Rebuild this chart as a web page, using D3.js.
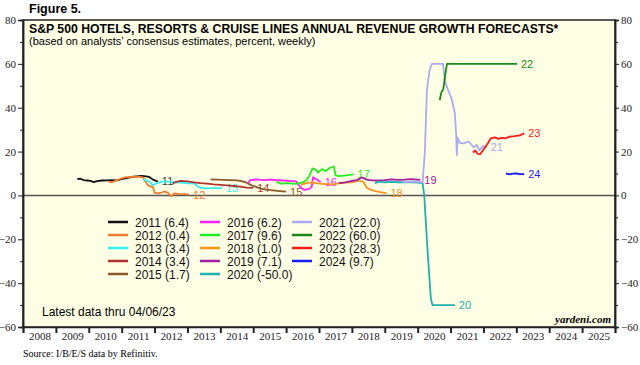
<!DOCTYPE html>
<html>
<head>
<meta charset="utf-8">
<script src="https://cdnjs.cloudflare.com/ajax/libs/d3/7.8.5/d3.min.js"></script>
<style>
  body { margin: 0; background: #fff; }
  svg { display: block; }
  .ax text { font-family: "Liberation Serif", "Times New Roman", serif; font-size: 11px; fill: #222; }
  .ax path, .ax line { stroke: #222; }
</style>
</head>
<body>
<div id="chart"></div>
<script>
// forecast years, and the last value shown in the legend
var years = [2011, 2012, 2013, 2014, 2015, 2016, 2017, 2018, 2019, 2020, 2021, 2022, 2023, 2024];
var lastValues = [6.4, 0.4, 3.4, 3.4, 1.7, 6.2, 9.6, 1.0, 7.1, -50.0, 22.0, 60.0, 28.3, 9.7];

// weekly consensus estimates, [date as decimal year, percent]
var fc2011 = [[2009.65,7.4],[2009.75,7.6],[2009.85,7.0],[2009.95,6.8],[2010.05,6.6],[2010.15,6.1],[2010.25,6.5],[2010.4,6.8],[2010.55,6.9],[2010.7,7.0],[2010.85,6.9],[2011.0,7.4],[2011.15,7.9],[2011.3,8.4],[2011.45,8.7],[2011.6,8.9],[2011.75,8.7],[2011.85,8.3],[2011.95,7.2],[2012.05,6.6],[2012.1,6.4]];
var fc2012 = [[2010.6,6.3],[2010.7,6.0],[2010.8,6.6],[2010.95,7.5],[2011.1,8.2],[2011.25,8.4],[2011.4,8.6],[2011.55,8.5],[2011.65,8.2],[2011.72,6.5],[2011.78,5.0],[2011.85,4.2],[2011.95,3.8],[2012.0,1.2],[2012.15,1.0],[2012.3,1.8],[2012.4,1.3],[2012.5,-0.4],[2012.6,0.9],[2012.75,0.6],[2012.9,0.6],[2013.05,0.4]];
var fc2013 = [[2011.65,7.3],[2011.75,6.8],[2011.85,6.2],[2011.95,4.6],[2012.05,5.5],[2012.2,6.2],[2012.35,6.4],[2012.55,6.0],[2012.8,5.8],[2013.0,5.5],[2013.2,5.6],[2013.3,4.2],[2013.4,3.5],[2013.55,3.2],[2013.7,3.3],[2013.85,3.3],[2014.05,3.4]];
var fc2014 = [[2012.55,5.3],[2012.65,6.2],[2012.8,6.6],[2013.0,6.4],[2013.2,6.0],[2013.4,5.6],[2013.6,5.4],[2013.8,5.0],[2014.0,4.8],[2014.2,4.6],[2014.4,4.3],[2014.6,4.0],[2014.8,3.6],[2015.0,3.4]];
var fc2015 = [[2013.7,7.3],[2013.9,7.2],[2014.1,7.1],[2014.3,7.0],[2014.5,6.9],[2014.65,6.5],[2014.8,5.8],[2014.95,4.6],[2015.1,3.8],[2015.25,3.0],[2015.4,2.6],[2015.6,2.3],[2015.8,2.0],[2016.0,1.7]];
var fc2016 = [[2014.85,5.5],[2014.9,7.0],[2015.1,7.3],[2015.3,7.0],[2015.5,7.2],[2015.7,7.0],[2015.9,6.8],[2016.1,6.6],[2016.3,6.4],[2016.45,3.5],[2016.55,2.5],[2016.7,3.0],[2016.78,4.0],[2016.82,8.3],[2016.9,7.5],[2017.0,6.6],[2017.05,6.2]];
var fc2017 = [[2015.7,6.2],[2015.85,5.4],[2016.05,5.6],[2016.3,5.3],[2016.5,5.9],[2016.62,7.0],[2016.72,9.3],[2016.8,12.3],[2016.9,11.8],[2016.97,10.4],[2017.05,11.5],[2017.1,12.0],[2017.2,11.0],[2017.32,12.5],[2017.45,13.2],[2017.5,9.3],[2017.6,8.8],[2017.75,9.0],[2017.9,9.3],[2018.05,9.6]];
var fc2018 = [[2016.45,4.8],[2016.6,5.6],[2016.8,6.0],[2017.0,5.4],[2017.2,5.2],[2017.4,5.0],[2017.6,5.5],[2017.8,5.8],[2018.0,6.0],[2018.2,6.9],[2018.35,6.2],[2018.45,3.5],[2018.6,2.4],[2018.75,1.8],[2018.9,1.4],[2019.05,1.0]];
var fc2019 = [[2017.6,5.6],[2017.8,6.0],[2018.0,6.6],[2018.15,7.0],[2018.3,8.2],[2018.45,7.2],[2018.6,6.9],[2018.8,6.8],[2019.0,7.0],[2019.2,7.3],[2019.4,7.1],[2019.6,7.2],[2019.8,7.4],[2020.0,7.2],[2020.08,7.1]];
var fc2020 = [[2018.7,5.5],[2018.8,6.3],[2019.0,6.0],[2019.2,6.2],[2019.4,6.0],[2019.6,6.1],[2019.8,6.0],[2020.0,5.9],[2020.15,5.6],[2020.2,0],[2020.3,-25],[2020.4,-47],[2020.45,-50],[2020.7,-50],[2020.95,-50],[2021.13,-50]];
var fc2021 = [[2019.55,6.0],[2019.8,6.3],[2020.0,6.2],[2020.15,6.0],[2020.22,20],[2020.28,48],[2020.36,57],[2020.43,60],[2020.6,60],[2020.77,60],[2020.83,52],[2020.89,49.5],[2020.98,46],[2021.04,43.5],[2021.13,37.5],[2021.17,28],[2021.19,18.5],[2021.21,26.5],[2021.28,24],[2021.4,23.7],[2021.55,24.6],[2021.7,22],[2021.8,23],[2021.88,20.5],[2021.98,22.5],[2022.1,22.0]];
var fc2022 = [[2020.67,43.4],[2020.72,47],[2020.78,48.5],[2020.84,55],[2020.89,60],[2021.2,60],[2021.6,60],[2022.0,60],[2022.5,60],[2023.02,60]];
var fc2023 = [[2021.68,19.6],[2021.75,20.5],[2021.82,19.0],[2021.9,18.8],[2021.98,20.5],[2022.05,22],[2022.13,23.7],[2022.22,26],[2022.35,26.5],[2022.45,25.8],[2022.55,26.2],[2022.65,26.0],[2022.8,26.8],[2022.95,27.0],[2023.1,27.4],[2023.24,28.3]];
var fc2024 = [[2022.68,10.0],[2022.8,9.6],[2022.9,9.9],[2023.0,10.0],[2023.1,9.7],[2023.24,9.7]];

var forecasts = [fc2011, fc2012, fc2013, fc2014, fc2015, fc2016, fc2017, fc2018, fc2019, fc2020, fc2021, fc2022, fc2023, fc2024];
var colors = ["#111111", "#f07a2e", "#33f0f0", "#b03232", "#8b5a2b", "#ff22ff", "#22ee22", "#f7941d", "#a020a0", "#20b0b0", "#aaaaf5", "#1a8a1a", "#ff1a1a", "#1a1aff"];

var xYears = d3.range(2008, 2026);
var yMajor = [-60, -40, -20, 0, 20, 40, 60, 80];
var yMinor = [-50, -30, -10, 10, 30, 50, 70];

// plot box inside the 640x365 page
var margin = {top: 20, right: 25, bottom: 38, left: 23},
    width = 640 - margin.left - margin.right,
    height = 365 - margin.top - margin.bottom;

var x = d3.scaleLinear().domain([2008, 2026]).range([0, width]);
var y = d3.scaleLinear().domain([-60, 80]).range([height, 0]);

var root = d3.select("#chart").append("svg")
    .attr("width", 640)
    .attr("height", 365);

root.append("text")
    .attr("x", 29).attr("y", 13)
    .attr("font-family", "Liberation Sans, Arial, sans-serif")
    .attr("font-weight", "bold").attr("font-size", "12.5px")
    .text("Figure 5.");

var svg = root.append("g")
    .attr("transform", "translate(" + margin.left + "," + margin.top + ")");

svg.append("rect")
    .attr("width", width).attr("height", height)
    .attr("fill", "#ffffe6");

// zero line
svg.append("line")
    .attr("x1", 0).attr("x2", width)
    .attr("y1", y(0)).attr("y2", y(0))
    .attr("stroke", "#555").attr("stroke-width", 1.5);

// series
var line = d3.line()
    .x(function(d) { return x(d[0]); })
    .y(function(d) { return y(d[1]); });

forecasts.forEach(function(s, i) {
  svg.append("path")
      .datum(s)
      .attr("fill", "none")
      .attr("stroke", colors[i])
      .attr("stroke-width", 1.8)
      .attr("stroke-linejoin", "round")
      .attr("d", line);
  var last = s[s.length - 1];
  svg.append("text")
      .attr("x", x(last[0]) + 4)
      .attr("y", y(last[1]) + 4)
      .attr("font-family", "Liberation Sans, Arial, sans-serif")
      .attr("font-size", "11px")
      .attr("fill", i == 0 ? "#444" : colors[i])
      .text(String(years[i]).slice(2));
});

// legend, three columns
var legend = svg.selectAll(".leg")
    .data(years)
  .enter().append("g")
    .attr("class", "leg")
    .attr("transform", function(d, i) {
      return "translate(" + (85 + Math.floor(i / 5) * 92) + "," + (202 + (i % 5) * 13) + ")";
    });
legend.append("line")
    .attr("x1", 0).attr("x2", 20)
    .attr("stroke", function(d, i) { return colors[i]; })
    .attr("stroke-width", 2.5);
legend.append("text")
    .attr("x", 27).attr("y", 4.5)
    .attr("font-family", "Liberation Sans, Arial, sans-serif")
    .attr("font-size", "12px")
    .attr("fill", "#111")
    .text(function(d, i) { return d + " (" + lastValues[i].toFixed(1) + ")"; });

// titles inside the box
svg.append("text")
    .attr("x", 6).attr("y", 13)
    .attr("font-family", "Liberation Sans, Arial, sans-serif")
    .attr("font-weight", "bold").attr("font-size", "12.25px")
    .text("S&P 500 HOTELS, RESORTS & CRUISE LINES ANNUAL REVENUE GROWTH FORECASTS*");
svg.append("text")
    .attr("x", 6).attr("y", 24.5)
    .attr("font-family", "Liberation Sans, Arial, sans-serif")
    .attr("font-size", "11px")
    .text("(based on analysts\u2019 consensus estimates, percent, weekly)");

svg.append("text")
    .attr("x", 19).attr("y", height - 11)
    .attr("font-family", "Liberation Sans, Arial, sans-serif")
    .attr("font-size", "12px")
    .text("Latest data thru 04/06/23");
svg.append("text")
    .attr("x", width - 4).attr("y", height - 4)
    .attr("text-anchor", "end")
    .attr("font-family", "Liberation Serif, Times New Roman, serif")
    .attr("font-weight", "bold").attr("font-style", "italic").attr("font-size", "11px")
    .text("yardeni.com");

// frame
svg.append("rect")
    .attr("width", width).attr("height", height)
    .attr("fill", "none").attr("stroke", "#222").attr("stroke-width", 1.5);

// y axes, both sides
svg.append("g").attr("class", "ax")
    .call(d3.axisLeft(y).tickValues(yMajor).tickSize(5).tickPadding(2));
svg.append("g").attr("class", "ax")
    .call(d3.axisLeft(y).tickValues(yMinor).tickSize(3).tickFormat(""));
svg.append("g").attr("class", "ax")
    .attr("transform", "translate(" + width + ",0)")
    .call(d3.axisRight(y).tickValues(yMajor).tickSize(4).tickPadding(2));
svg.append("g").attr("class", "ax")
    .attr("transform", "translate(" + width + ",0)")
    .call(d3.axisRight(y).tickValues(yMinor).tickSize(3).tickFormat(""));

// x axis: ticks at year starts, labels mid-year
var xa = svg.append("g").attr("class", "ax")
    .attr("transform", "translate(0," + height + ")")
    .call(d3.axisBottom(x).tickValues(d3.range(2008, 2027)).tickSize(6).tickFormat(""));
xa.selectAll("line").attr("stroke-width", 2);
svg.append("g").attr("class", "ax")
    .attr("transform", "translate(0," + height + ")")
    .call(d3.axisBottom(x).tickValues(xYears.map(function(d) { return d + 0.5; }))
      .tickSize(0).tickPadding(5).tickFormat(function(d) { return Math.floor(d); }))
    .select(".domain").remove();
svg.selectAll(".ax .domain").attr("stroke-width", 1.5);

root.append("text")
    .attr("x", 23).attr("y", 357)
    .attr("font-family", "Liberation Serif, Times New Roman, serif")
    .attr("font-size", "10px")
    .text("Source: I/B/E/S data by Refinitiv.");
</script>
</body>
</html>
